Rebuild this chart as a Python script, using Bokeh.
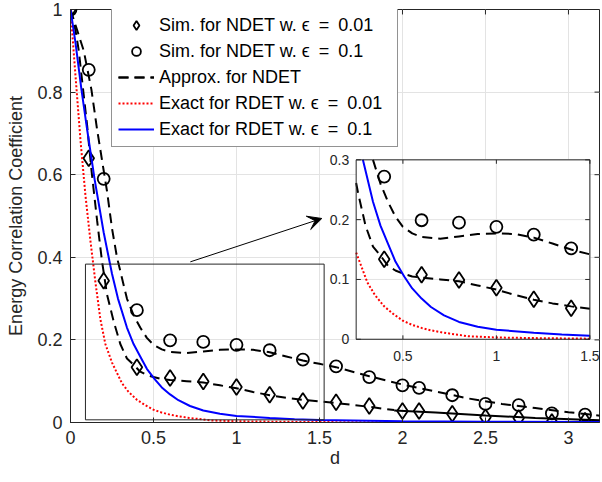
import numpy as np
from bokeh.plotting import figure
from bokeh.models import Range1d, FixedTicker, Legend, LegendItem, Arrow, VeeHead
from bokeh.embed import file_html
from bokeh.resources import INLINE
from bokeh.core.properties import value

# ---------------- data ----------------
sim_x = [0, 0.11, 0.2, 0.4, 0.6, 0.8, 1.0, 1.2, 1.4, 1.6, 1.8, 2.0, 2.1, 2.3, 2.5, 2.7, 2.9, 3.1]
sim_eps001 = [1.0, 0.64, 0.343, 0.134, 0.108, 0.099, 0.086, 0.067, 0.052, 0.049, 0.040, 0.028, 0.028, 0.021, 0.013, 0.011, 0.001, 0.004]
sim_eps01 = [1.0, 0.854, 0.59, 0.272, 0.199, 0.195, 0.188, 0.175, 0.152, 0.136, 0.110, 0.090, 0.084, 0.066, 0.045, 0.042, 0.022, 0.019]

approx01_x = [0, 0.04, 0.08, 0.126, 0.16, 0.2, 0.22, 0.25, 0.28, 0.31, 0.34, 0.38, 0.42, 0.46, 0.5, 0.55,
              0.6, 0.7, 0.8, 0.9, 1.0, 1.1, 1.2, 1.3, 1.4, 1.5, 1.6, 1.8, 2.0, 2.2, 2.4, 2.6, 2.8, 3.0, 3.2]
approx01_y = [1.0, 0.95, 0.9, 0.806, 0.71, 0.61, 0.56, 0.47, 0.40, 0.35, 0.30, 0.26, 0.23, 0.205, 0.188, 0.177,
              0.171, 0.168, 0.172, 0.176, 0.177, 0.176, 0.17, 0.16, 0.15, 0.142, 0.134, 0.112, 0.092, 0.075, 0.058,
              0.045, 0.035, 0.025, 0.016]

approx001_x = [0, 0.03, 0.05, 0.076, 0.1, 0.126, 0.16, 0.19, 0.22, 0.26, 0.3, 0.34, 0.38, 0.42, 0.46, 0.5, 0.55,
               0.6, 0.7, 0.8, 0.9, 1.0, 1.1, 1.2, 1.3, 1.4, 1.5, 1.6, 1.8, 1.95]
approx001_y = [1.0, 0.95, 0.90, 0.806, 0.72, 0.612, 0.49, 0.39, 0.31, 0.245, 0.19, 0.155, 0.14, 0.123, 0.115, 0.11,
               0.105, 0.103, 0.1, 0.097, 0.09, 0.083, 0.074, 0.066, 0.06, 0.055, 0.051, 0.047, 0.038, 0.03]
tail_x = [1.95, 2.2, 2.5, 2.8, 3.2]
tail_y = [0.029, 0.024, 0.017, 0.011, 0.005]

rdet01_x = [0, 0.03, 0.066, 0.1, 0.146, 0.2, 0.25, 0.286, 0.34, 0.38, 0.42, 0.46, 0.507, 0.55, 0.6, 0.65,
            0.72, 0.8, 0.9, 1.0, 1.2, 1.35, 1.5, 2.0, 2.5, 3.2]
rdet01_y = [1.0, 0.92, 0.806, 0.71, 0.587, 0.46, 0.36, 0.30, 0.23, 0.19, 0.16, 0.13, 0.105, 0.085, 0.068, 0.054,
            0.040, 0.029, 0.021, 0.016, 0.011, 0.008, 0.006, 0.003, 0.002, 0.001]

rdet001_x = [0, 0.03, 0.06, 0.09, 0.12, 0.15, 0.18, 0.21, 0.25, 0.31, 0.35, 0.4, 0.45, 0.5, 0.55, 0.6, 0.65,
             0.7, 0.75, 0.85, 1.0, 1.2, 1.5, 2.0, 3.2]
rdet001_y = [1.0, 0.84, 0.684, 0.55, 0.44, 0.34, 0.25, 0.19, 0.145, 0.095, 0.074, 0.055, 0.042, 0.031, 0.024,
             0.019, 0.015, 0.012, 0.0095, 0.005, 0.003, 0.002, 0.001, 0.0005, 0.0]

x_ticks = [0, 0.5, 1, 1.5, 2, 2.5, 3]
x_tick_labels = ["0", "0.5", "1", "1.5", "2", "2.5", "3"]
y_ticks = [0, 0.2, 0.4, 0.6, 0.8, 1.0]
y_tick_labels = ["0", "0.2", "0.4", "0.6", "0.8", "1"]

inset_xr = [0.25, 1.5]
inset_yr = [0.0, 0.3]
inset_x_ticks = [0.5, 1.0, 1.5]
inset_x_tick_labels = ["0.5", "1", "1.5"]
inset_y_ticks = [0.0, 0.1, 0.2, 0.3]
inset_y_tick_labels = ["0", "0.1", "0.2", "0.3"]

legend_labels = ["Sim. for NDET w. \u03f5\u2002=\u20020.01",
                 "Sim. for NDET w. \u03f5\u2002=\u20020.1",
                 "Approx. for NDET",
                 "Exact for RDET w. \u03f5\u2002=\u20020.01",
                 "Exact for RDET w. \u03f5\u2002=\u20020.1"]

# layout helpers (positions in main-axis data units)
x_end = 3.187
inset_place_x = [1.721, 3.129]
inset_place_y = [0.2015, 0.636]
zoom_box = dict(left=0.09, right=1.528, bottom=0.0065, top=0.3835)
arrow_pos = dict(x_start=0.722, y_start=0.389, x_end=1.514, y_end=0.494)

FONT = "Liberation Sans"
AX = "#262626"
GRID = "#e3e3e3"
DASH = "10 6"
DOT = "2 2"

p = figure(width=602, height=482, x_range=Range1d(0, x_end), y_range=Range1d(0, 1.0),
           output_backend="svg", toolbar_location=None,
           min_border_left=70, min_border_right=3, min_border_top=9, min_border_bottom=60)

p.xaxis.ticker = FixedTicker(ticks=x_ticks)
p.yaxis.ticker = FixedTicker(ticks=y_ticks)
p.xaxis.major_label_overrides = {t: l for t, l in zip(x_ticks, x_tick_labels)}
p.yaxis.major_label_overrides = {t: l for t, l in zip(y_ticks, y_tick_labels)}
for ax in (p.xaxis[0], p.yaxis[0]):
    ax.major_label_text_font = FONT
    ax.major_label_text_font_size = "18px"
    ax.major_label_text_color = AX
    ax.axis_label_text_font = FONT
    ax.axis_label_text_font_size = "18px"
    ax.axis_label_text_font_style = "normal"
    ax.axis_label_text_color = AX
    ax.axis_line_color = AX
    ax.major_tick_line_color = AX
    ax.major_tick_in = 5
    ax.major_tick_out = 0
    ax.minor_tick_line_color = None
p.xaxis.axis_label = "d"
p.yaxis.axis_label = "Energy Correlation Coefficient"
p.xaxis.major_label_standoff = 8
p.xaxis.axis_label_standoff = 1
p.yaxis.major_label_standoff = 8
p.yaxis.axis_label_standoff = 8

p.xgrid.ticker = FixedTicker(ticks=x_ticks)
p.ygrid.ticker = FixedTicker(ticks=y_ticks)
p.grid.grid_line_color = GRID
p.outline_line_color = AX

# ticks on the top and right box edges (MATLAB box on)
p.segment(x0=x_ticks, y0=[1.0] * len(x_ticks), x1=x_ticks, y1=[1.0 - 0.012] * len(x_ticks), line_color=AX)
p.segment(x0=[x_end] * len(y_ticks), y0=y_ticks, x1=[x_end - 0.03] * len(y_ticks), y1=y_ticks, line_color=AX)

# ---------------- main curves ----------------
r_d = p.scatter(sim_x, sim_eps001, marker="diamond", size=16, line_color="black", line_width=1.8, fill_alpha=0)
r_c = p.scatter(sim_x, sim_eps01, marker="circle", size=12, line_color="black", line_width=1.8, fill_alpha=0)
r_a1 = p.line(approx01_x, approx01_y, line_color="black", line_width=2, line_dash=DASH)
r_a2 = p.line(approx001_x, approx001_y, line_color="black", line_width=2, line_dash=DASH)
p.line(tail_x, tail_y, line_color="black", line_width=2)
r_red = p.line(rdet001_x, rdet001_y, line_color="#ff0000", line_width=2, line_dash=DOT)
r_blue = p.line(rdet01_x, rdet01_y, line_color="#0000ff", line_width=2)

p.quad(**zoom_box, fill_alpha=0, line_color=AX, line_width=1)
p.add_layout(Arrow(**arrow_pos, line_color="black", line_width=1,
                   end=VeeHead(size=14, fill_color="black", line_color="black")))

# ---------------- inset ----------------
xy = p.subplot(x_source=Range1d(*inset_xr), y_source=Range1d(*inset_yr),
               x_target=Range1d(*inset_place_x), y_target=Range1d(*inset_place_y))


def clip(xs, ys, x0, x1, y0, y1):
    ox, oy = [], []
    for i in range(len(xs) - 1):
        ax_, ay_, bx, by = xs[i], ys[i], xs[i + 1], ys[i + 1]
        dx, dy = bx - ax_, by - ay_
        t0, t1, ok = 0.0, 1.0, True
        for pp, qq in ((-dx, ax_ - x0), (dx, x1 - ax_), (-dy, ay_ - y0), (dy, y1 - ay_)):
            if pp == 0:
                if qq < 0:
                    ok = False
                    break
            else:
                r = qq / pp
                if pp < 0:
                    if r > t1:
                        ok = False
                        break
                    t0 = max(t0, r)
                else:
                    if r < t0:
                        ok = False
                        break
                    t1 = min(t1, r)
        if not ok:
            continue
        sx, sy = ax_ + t0 * dx, ay_ + t0 * dy
        ex, ey = ax_ + t1 * dx, ay_ + t1 * dy
        if not ox or abs(ox[-1] - sx) > 1e-12 or abs(oy[-1] - sy) > 1e-12:
            if ox:
                ox.append(np.nan)
                oy.append(np.nan)
            ox.append(sx)
            oy.append(sy)
        ox.append(ex)
        oy.append(ey)
    return ox, oy


def inside(xs, ys):
    pts = [(a, b) for a, b in zip(xs, ys)
           if inset_xr[0] <= a <= inset_xr[1] and inset_yr[0] <= b <= inset_yr[1]]
    return [a for a, _ in pts], [b for _, b in pts]


xy.quad(left=[inset_xr[0]], right=[inset_xr[1]], bottom=[inset_yr[0]], top=[inset_yr[1]],
        fill_color="white", line_color=None)
xy.segment(x0=inset_x_ticks, y0=[inset_yr[0]] * 3, x1=inset_x_ticks, y1=[inset_yr[1]] * 3,
           line_color=GRID, line_width=1)
xy.segment(x0=[inset_xr[0]] * 4, y0=inset_y_ticks, x1=[inset_xr[1]] * 4, y1=inset_y_ticks,
           line_color=GRID, line_width=1)

for (xs, ys, kw) in ((approx01_x, approx01_y, dict(line_color="black", line_width=2, line_dash=DASH)),
                     (approx001_x, approx001_y, dict(line_color="black", line_width=2, line_dash=DASH)),
                     (rdet001_x, rdet001_y, dict(line_color="#ff0000", line_width=2, line_dash=DOT)),
                     (rdet01_x, rdet01_y, dict(line_color="#0000ff", line_width=2))):
    cx, cy = clip(xs, ys, inset_xr[0], inset_xr[1], inset_yr[0], inset_yr[1])
    xy.line(cx, cy, **kw)

dx_, dy_ = inside(sim_x, sim_eps001)
xy.scatter(dx_, dy_, marker="diamond", size=16, line_color="black", line_width=1.8, fill_alpha=0)
cx_, cy_ = inside(sim_x, sim_eps01)
xy.scatter(cx_, cy_, marker="circle", size=12, line_color="black", line_width=1.8, fill_alpha=0)

# inset box and ticks
xy.quad(left=[inset_xr[0]], right=[inset_xr[1]], bottom=[inset_yr[0]], top=[inset_yr[1]],
        fill_alpha=0, line_color=AX, line_width=1)
tlx = 0.02 * (inset_xr[1] - inset_xr[0])
tly = 0.022 * (inset_yr[1] - inset_yr[0])
xy.segment(x0=inset_x_ticks, y0=[inset_yr[0]] * 3, x1=inset_x_ticks, y1=[inset_yr[0] + tly] * 3, line_color=AX)
xy.segment(x0=inset_x_ticks, y0=[inset_yr[1]] * 3, x1=inset_x_ticks, y1=[inset_yr[1] - tly] * 3, line_color=AX)
xy.segment(x0=[inset_xr[0]] * 4, y0=inset_y_ticks, x1=[inset_xr[0] + tlx] * 4, y1=inset_y_ticks, line_color=AX)
xy.segment(x0=[inset_xr[1]] * 4, y0=inset_y_ticks, x1=[inset_xr[1] - tlx] * 4, y1=inset_y_ticks, line_color=AX)

xy.text(x=inset_x_ticks, y=[inset_yr[0]] * 3, text=inset_x_tick_labels, text_align="center",
        text_baseline="top", y_offset=12, text_font=value(FONT), text_font_size="14px", text_color=AX)
xy.text(x=[inset_xr[0]] * 4, y=inset_y_ticks, text=inset_y_tick_labels, text_align="right",
        text_baseline="middle", x_offset=-7, text_font=value(FONT), text_font_size="14px", text_color=AX)

# ---------------- legend ----------------
legend = Legend(items=[
    LegendItem(label=legend_labels[0], renderers=[r_d]),
    LegendItem(label=legend_labels[1], renderers=[r_c]),
    LegendItem(label=legend_labels[2], renderers=[r_a1, r_a2]),
    LegendItem(label=legend_labels[3], renderers=[r_red]),
    LegendItem(label=legend_labels[4], renderers=[r_blue]),
], location=(41, 275))
legend.label_text_font = FONT
legend.label_text_font_size = "18px"
legend.label_text_color = "black"
legend.glyph_width = 36
legend.glyph_height = 22
legend.label_height = 22
legend.label_width = 232
legend.spacing = 4
legend.padding = 6
legend.margin = 0
legend.label_standoff = 5
legend.border_line_color = AX
legend.border_line_width = 1
legend.background_fill_color = "white"
legend.background_fill_alpha = 1
p.add_layout(legend)

open("out.html", "w").write(file_html(p, INLINE))
